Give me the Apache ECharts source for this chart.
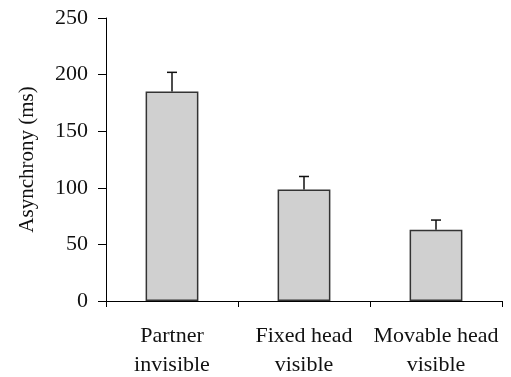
<!DOCTYPE html>
<html><head><meta charset="utf-8">
<script src="https://cdn.jsdelivr.net/npm/echarts@6/dist/echarts.min.js"></script>
<style>html,body{margin:0;padding:0;background:#fff}#c{width:511px;height:377px}</style>
</head><body><div id="c"></div>
<script>
const categories = ['Partner\ninvisible', 'Fixed head\nvisible', 'Movable head\nvisible'];
const means = [185, 98.5, 63];
const errTops = [202, 110, 71.5];
const yTicks = [0, 50, 100, 150, 200, 250];

const chart = echarts.init(document.getElementById('c'), null, {renderer: 'canvas'});
const font = "'Liberation Serif', 'Times New Roman', serif";
chart.setOption({
  animation: false,
  grid: {left: 106, right: 9, top: 18, bottom: 76, containLabel: false, outerBoundsMode: 'none'},
  xAxis: {
    type: 'category', data: categories, boundaryGap: true,
    axisLine: {lineStyle: {color: '#000', width: 1}},
    axisTick: {show: true, length: 6, lineStyle: {color: '#000'}},
    axisLabel: {color: '#111', fontFamily: font, fontSize: 22, lineHeight: 29, margin: 21, interval: 0}
  },
  yAxis: {
    type: 'value', min: yTicks[0], max: yTicks[yTicks.length - 1], interval: 50,
    name: 'Asynchrony (ms)', nameLocation: 'middle', nameGap: 68,
    nameTextStyle: {color: '#111', fontFamily: font, fontSize: 21},
    axisLine: {show: true, lineStyle: {color: '#000', width: 1}},
    axisTick: {show: true, length: 8, lineStyle: {color: '#000'}},
    splitLine: {show: false},
    axisLabel: {color: '#111', fontFamily: font, fontSize: 22, margin: 18}
  },
  series: [
    {
      type: 'bar', data: means, barWidth: '40%',
      itemStyle: {color: '#d0d0d0', borderColor: '#333', borderWidth: 1.5}
    },
    {
      type: 'custom', data: categories.map((c, i) => [i, means[i], errTops[i]]),
      renderItem: function (params, api) {
        const base = api.coord([api.value(0), api.value(1)]);
        const top = api.coord([api.value(0), api.value(2)]);
        const hw = 5;
        return {
          type: 'group', children: [
            {type: 'line', shape: {x1: base[0], y1: base[1], x2: top[0], y2: top[1]}, style: {stroke: '#111', lineWidth: 1.5}},
            {type: 'line', shape: {x1: top[0] - hw, y1: top[1], x2: top[0] + hw, y2: top[1]}, style: {stroke: '#111', lineWidth: 1.5}}
          ]
        };
      },
      z: 3
    }
  ]
});
</script></body></html>
